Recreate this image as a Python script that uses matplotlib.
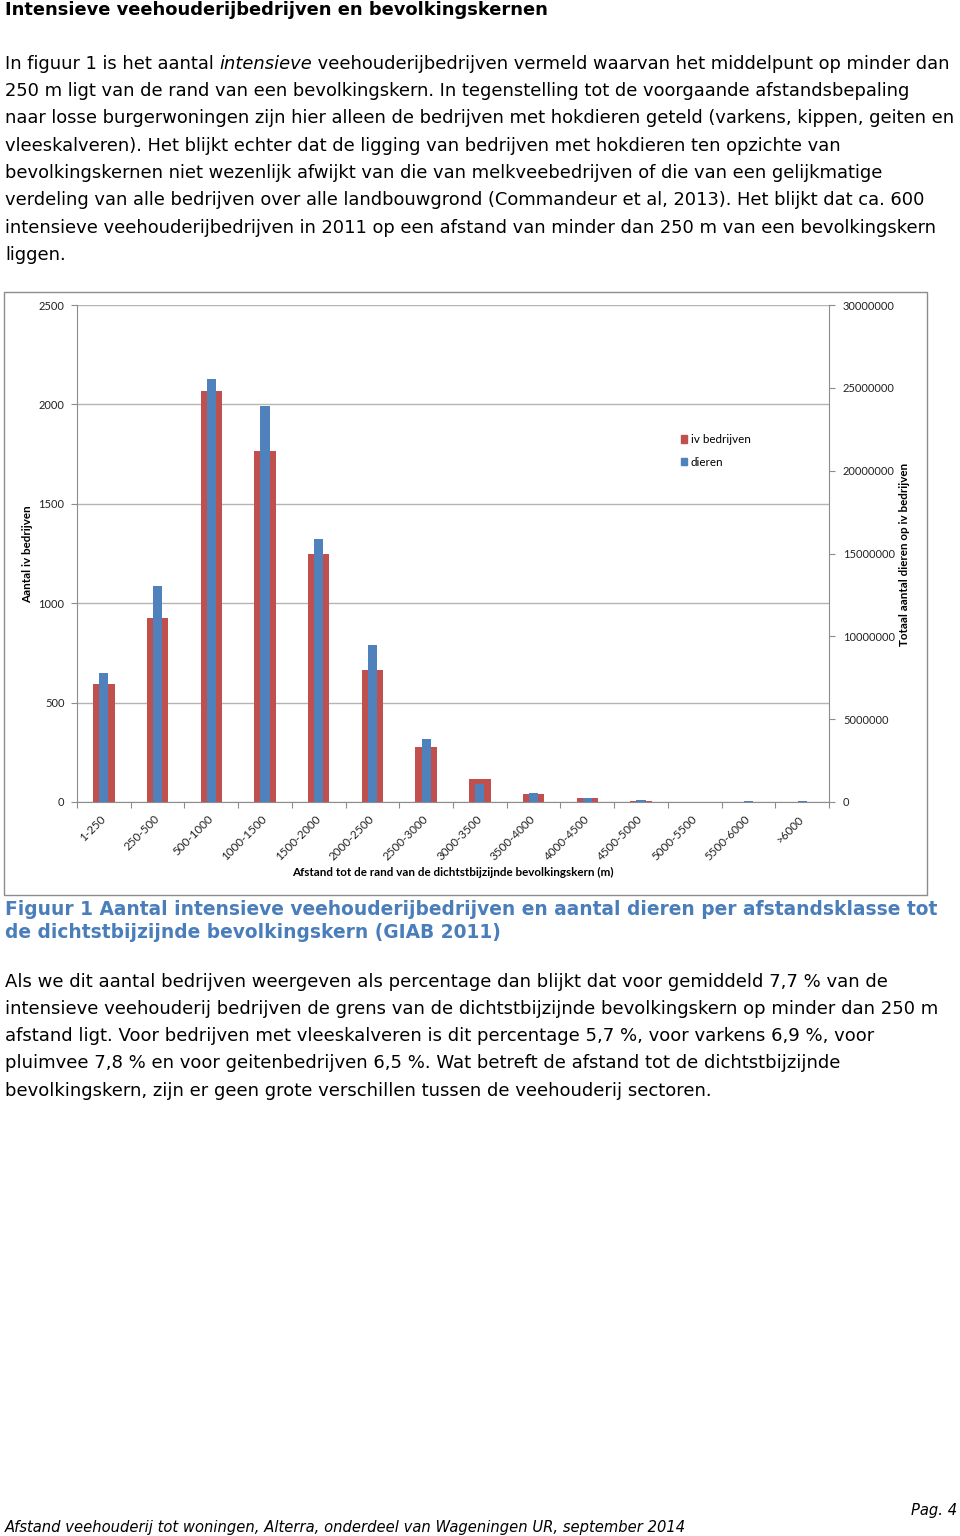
import matplotlib
matplotlib.use("Agg")
import matplotlib.pyplot as plt
from matplotlib.patches import Patch, Rectangle
import numpy as np

W, H = 960, 1536

# chart data
categories = ["1-250", "250-500", "500-1000", "1000-1500", "1500-2000", "2000-2500",
              "2500-3000", "3000-3500", "3500-4000", "4000-4500", "4500-5000",
              "5000-5500", "5500-6000", ">6000"]
iv_bedrijven = [592, 927, 2069, 1767, 1246, 666, 275, 114, 39, 22, 3, 1, 1, 2]
dieren = [7.79e6, 13.06e6, 25.55e6, 23.92e6, 15.86e6, 9.46e6, 3.80e6, 1.09e6,
          0.54e6, 0.26e6, 0.10e6, 0.03e6, 0.06e6, 0.05e6]
left_ticks = [0, 500, 1000, 1500, 2000, 2500]
right_ticks = [0, 5000000, 10000000, 15000000, 20000000, 25000000, 30000000]

title = "Intensieve veehouderijbedrijven en bevolkingskernen"
para1 = [
    [("In figuur 1 is het aantal ", "normal"), ("intensieve", "italic"),
     (" veehouderijbedrijven vermeld waarvan het middelpunt op minder dan", "normal")],
    [("250 m ligt van de rand van een bevolkingskern. In tegenstelling tot de voorgaande afstandsbepaling", "normal")],
    [("naar losse burgerwoningen zijn hier alleen de bedrijven met hokdieren geteld (varkens, kippen, geiten en", "normal")],
    [("vleeskalveren). Het blijkt echter dat de ligging van bedrijven met hokdieren ten opzichte van", "normal")],
    [("bevolkingskernen niet wezenlijk afwijkt van die van melkveebedrijven of die van een gelijkmatige", "normal")],
    [("verdeling van alle bedrijven over alle landbouwgrond (Commandeur et al, 2013). Het blijkt dat ca. 600", "normal")],
    [("intensieve veehouderijbedrijven in 2011 op een afstand van minder dan 250 m van een bevolkingskern", "normal")],
    [("liggen.", "normal")],
]
caption = ["Figuur 1 Aantal intensieve veehouderijbedrijven en aantal dieren per afstandsklasse tot",
           "de dichtstbijzijnde bevolkingskern (GIAB 2011)"]
para2 = [
    "Als we dit aantal bedrijven weergeven als percentage dan blijkt dat voor gemiddeld 7,7 % van de",
    "intensieve veehouderij bedrijven de grens van de dichtstbijzijnde bevolkingskern op minder dan 250 m",
    "afstand ligt. Voor bedrijven met vleeskalveren is dit percentage 5,7 %, voor varkens 6,9 %, voor",
    "pluimvee 7,8 % en voor geitenbedrijven 6,5 %. Wat betreft de afstand tot de dichtstbijzijnde",
    "bevolkingskern, zijn er geen grote verschillen tussen de veehouderij sectoren.",
]
footer = "Afstand veehouderij tot woningen, Alterra, onderdeel van Wageningen UR, september 2014"
page = "Pag. 4"

RED = "#c0504d"
BLUE = "#4f81bd"
GREY = "#8c8c8c"
BODY = "DejaVu Sans"
CHART = "Lato"
CS = 8.4  # chart font size

fig = plt.figure(figsize=(W / 100, H / 100), dpi=100)
renderer = fig.canvas.get_renderer()


def fx(x):
    return x / W


def fy(y):
    return 1 - y / H


def text_w(s, **kw):
    t = fig.text(0, 0, s + "|", **kw)
    w1 = t.get_window_extent(renderer).width
    t.remove()
    t = fig.text(0, 0, "|", **kw)
    w2 = t.get_window_extent(renderer).width
    t.remove()
    return w1 - w2


def fit(s, target, **kw):
    return 10 * target / text_w(s, fontsize=10, **kw)


def runs(x, y, parts, size, **kw):
    for s, style in parts:
        fig.text(fx(x), fy(y), s, fontsize=size, style=style, ha="left", va="baseline", **kw)
        x += text_w(s, fontsize=size, style=style, **kw)


# ---- text above the chart
ts = fit(title, 542, family=BODY, weight="bold")
fig.text(fx(5), fy(15), title, fontsize=ts, family=BODY, weight="bold", va="baseline")

bs = fit(para1[2][0][0], 950, family=BODY)
for i, line in enumerate(para1):
    runs(5, [69, 96, 123, 151, 178, 205, 233, 260][i], line, bs, family=BODY)

# ---- chart
frame = Rectangle((fx(4), fy(895)), (927 - 4) / W, (895 - 292) / H, transform=fig.transFigure,
                  fill=False, edgecolor=GREY, lw=1)
fig.add_artist(frame)

ax = fig.add_axes([fx(77), fy(802), (829 - 77) / W, (802 - 305) / H])
ax2 = ax.twinx()
x = np.arange(len(categories))
ax.bar(x, iv_bedrijven, width=0.40, color=RED, zorder=2)
ax2.bar(x, dieren, width=0.17, color=BLUE, zorder=2)

ax.set_xlim(-0.5, len(categories) - 0.5)
ax.set_ylim(0, 2500)
ax2.set_ylim(0, 30000000)
ax.set_yticks(left_ticks)
ax.set_yticklabels([str(v) for v in left_ticks])
ax2.set_yticks(right_ticks)
ax2.set_yticklabels([str(v) for v in right_ticks])
ax.yaxis.grid(True, color="#b4b4b4", lw=1)
ax.set_axisbelow(True)

ax.set_xticks(np.arange(len(categories) + 1) - 0.5)
ax.set_xticklabels([])
ax.set_xticks(x, minor=True)
ax.set_xticklabels(categories, minor=True, rotation=45, ha="right", va="center",
                   rotation_mode="anchor", fontsize=CS, family=CHART, color="#222222")
ax.tick_params(axis="x", which="minor", length=0, pad=11)
ax.tick_params(axis="x", which="major", length=4, color=GREY)
ax.tick_params(axis="y", length=4, color=GREY, pad=5, labelsize=8.0, labelcolor="#222222")
ax2.tick_params(axis="y", length=4, color=GREY, pad=6, labelsize=8.0, labelcolor="#222222")
for lab in ax.get_yticklabels() + ax2.get_yticklabels():
    lab.set_family(CHART)

for a in (ax, ax2):
    a.spines["top"].set_visible(False)
    for s in ("left", "right", "bottom"):
        a.spines[s].set_color(GREY)
ax.spines["right"].set_visible(False)
ax2.spines["left"].set_visible(False)
ax2.spines["bottom"].set_visible(False)

fig.text(fx(28), fy(554), "Aantal iv bedrijven", rotation=90, ha="center", va="center",
         fontsize=CS, weight="bold", family=CHART)
fig.text(fx(905), fy(554), "Totaal aantal dieren op iv bedrijven", rotation=90, ha="center",
         va="center", fontsize=CS, weight="bold", family=CHART)
fig.text(fx(453), fy(872), "Afstand tot de rand van de dichtstbijzijnde bevolkingskern (m)",
         ha="center", va="center", fontsize=CS, weight="bold", family=CHART)

handles = [Patch(color=RED), Patch(color=BLUE)]
fig.legend(handles, ["iv bedrijven", "dieren"], loc="upper left",
           bbox_to_anchor=(fx(681), fy(434)), frameon=False, prop={"family": CHART, "size": CS},
           handlelength=0.55, handleheight=0.6, handletextpad=0.3, labelspacing=1.0,
           borderpad=0, borderaxespad=0)

# ---- caption and text below
cs = fit(caption[0], 933, family=BODY, weight="bold")
fig.text(fx(5), fy(915), caption[0], fontsize=cs, family=BODY, weight="bold", color="#4a7ebb",
         va="baseline")
fig.text(fx(5), fy(938), caption[1], fontsize=cs, family=BODY, weight="bold", color="#4a7ebb",
         va="baseline")

ps = fit(para2[0], 879, family=BODY)
for i, line in enumerate(para2):
    fig.text(fx(5), fy([987, 1014, 1041, 1068, 1096][i]), line, fontsize=ps, family=BODY,
             va="baseline")

fs = fit(footer, 679, family=BODY, style="italic")
fig.text(fx(5), fy(1532), footer, fontsize=fs, family=BODY, style="italic", va="baseline")
fig.text(fx(957), fy(1515), page, fontsize=fs, family=BODY, style="italic", va="baseline",
         ha="right")

fig.savefig("out.png", dpi=100)
